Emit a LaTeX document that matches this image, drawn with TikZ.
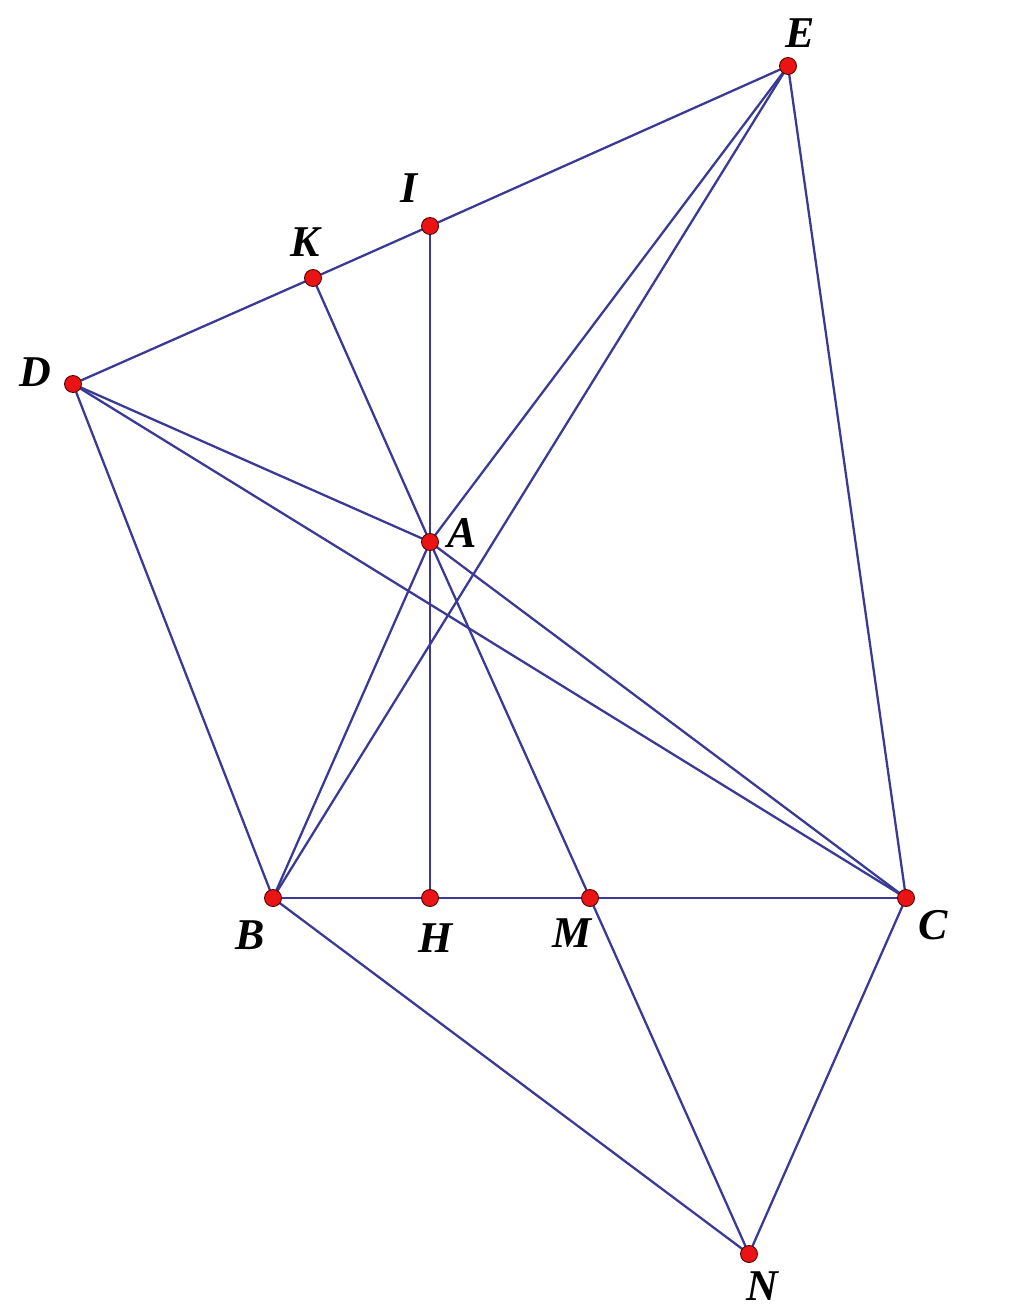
\documentclass[tikz,border=0pt]{standalone}
\usepackage{fontspec}
\setmainfont{Liberation Serif}
\usetikzlibrary{positioning}

\definecolor{segblue}{RGB}{58,58,150}
\definecolor{ptred}{RGB}{235,20,20}

\begin{document}
\begin{tikzpicture}[
      x=0.02cm, y=-0.02cm,
      seg/.style={draw=segblue,line width=1.3pt},
      dot/.style={fill=ptred,draw=black!70!red,line width=0.5pt},
      lab/.style={font=\fontsize{25}{30}\selectfont\bfseries\itshape,inner sep=0pt}
    ]
    \useasboundingbox (0,0) rectangle (1024,1311);

    % Points
    \coordinate (E) at (788,66);
    \coordinate (I) at (430,226);
    \coordinate (K) at (313,278);
    \coordinate (D) at (73,384);
    \coordinate (A) at (430,542);
    \coordinate (B) at (273,898);
    \coordinate (H) at (430,898);
    \coordinate (M) at (590,898);
    \coordinate (C) at (906,898);
    \coordinate (N) at (749,1254);

    % Segments
    \draw[seg] (D) -- (K) -- (I) -- (E);
    \draw[seg] (I) -- (A) -- (H);
    \draw[seg] (K) -- (A) -- (M);
    \draw[seg] (D) -- (B);
    \draw[seg] (D) -- (A);
    \draw[seg] (D) -- (C);
    \draw[seg] (E) -- (A);
    \draw[seg] (E) -- (B);
    \draw[seg] (E) -- (C);
    \draw[seg] (A) -- (B);
    \draw[seg] (A) -- (C);
    \draw[seg] (B) -- (H) -- (M) -- (C);
    \draw[seg] (B) -- (N);
    \draw[seg] (M) -- (N);
    \draw[seg] (C) -- (N);

    % Dots
    \foreach \p in {E,I,K,D,A,B,H,M,C,N}
      \draw[dot] (\p) circle (8.5);

    % Labels
    \node[lab] (lE) at (800,33) {E};
    \node[lab] (lI) at (409,188) {I};
    \node[lab] (lK) at (305,242) {K};
    \node[lab] (lD) at (35,372) {D};
    \node[lab] (lA) at (462,533) {A};
    \node[lab] (lB) at (250,935) {B};
    \node[lab] (lH) at (436,938) {H};
    \node[lab] (lM) at (572,933) {M};
    \node[lab] (lC) at (933,925) {C};
    \node[lab] (lN) at (762,1286) {N};

  \end{tikzpicture}
\end{document}
